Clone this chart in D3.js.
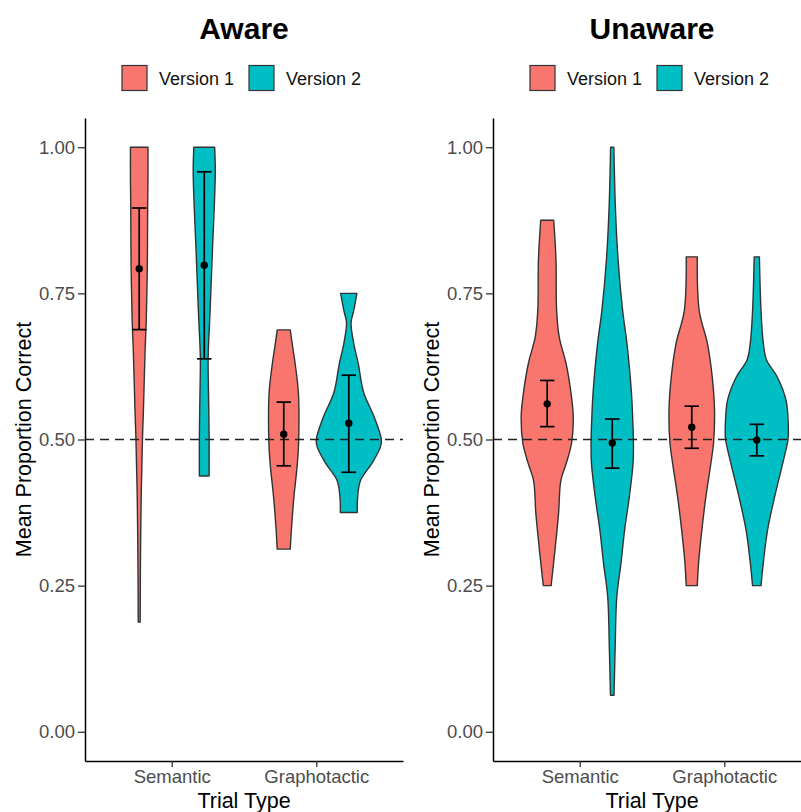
<!DOCTYPE html>
<html>
<head>
<meta charset="utf-8">
<script src="https://cdn.jsdelivr.net/npm/d3@7"></script>
<style>
  body { margin: 0; background: #fff; }
  text { font-family: "Liberation Sans", Arial, Helvetica, sans-serif; }
</style>
</head>
<body>
<svg id="chart"></svg>
<script>
// categories
const panels = ["Aware", "Unaware"];
const trialTypes = ["Semantic", "Graphotactic"];
const versions = ["Version 1", "Version 2"];
const colors = ["#F8766D", "#00BFC4"];
const yTicks = [0, 0.25, 0.5, 0.75, 1];
const chance = 0.5;

// mean and error bars, order: Semantic V1, Semantic V2, Graphotactic V1, Graphotactic V2
const awareMean  = [0.792, 0.798, 0.509, 0.528];
const awareLower = [0.688, 0.638, 0.455, 0.444];
const awareUpper = [0.896, 0.958, 0.564, 0.610];
const unawareMean  = [0.561, 0.494, 0.521, 0.499];
const unawareLower = [0.522, 0.451, 0.485, 0.472];
const unawareUpper = [0.601, 0.535, 0.557, 0.526];

// violin outlines: [proportion correct, relative density]
const awareSemV1 = [[1.0,0.27],[0.95,0.27],[0.90,0.26],[0.80,0.25],[0.70,0.215],[0.65,0.18],[0.55,0.13],[0.50,0.10],[0.45,0.08],[0.40,0.06],[0.30,0.04],[0.1875,0.03]];
const awareSemV2 = [[1.0,0.32],[0.96,0.34],[0.90,0.31],[0.835,0.26],[0.72,0.18],[0.64,0.12],[0.60,0.125],[0.55,0.14],[0.50,0.15],[0.4375,0.15]];
const awareGraphV1 = [[0.6875,0.20],[0.66,0.27],[0.63,0.35],[0.58,0.45],[0.50,0.46],[0.46,0.42],[0.40,0.31],[0.35,0.24],[0.3125,0.20]];
const awareGraphV2 = [[0.75,0.25],[0.72,0.15],[0.70,0.07],[0.665,0.15],[0.63,0.29],[0.58,0.46],[0.54,0.77],[0.50,1.0],[0.487,0.97],[0.46,0.72],[0.43,0.36],[0.40,0.27],[0.375,0.26]];
const unawareSemV1 = [[0.875,0.20],[0.807,0.27],[0.72,0.29],[0.675,0.37],[0.63,0.58],[0.58,0.73],[0.54,0.80],[0.494,0.75],[0.46,0.59],[0.43,0.42],[0.374,0.35],[0.317,0.25],[0.27,0.16],[0.25,0.12]];
const unawareSemV2 = [[1.0,0.05],[0.892,0.10],[0.807,0.18],[0.72,0.32],[0.665,0.45],[0.58,0.59],[0.52,0.64],[0.50,0.65],[0.46,0.64],[0.40,0.52],[0.345,0.38],[0.289,0.27],[0.231,0.14],[0.145,0.09],[0.0625,0.055]];
const unawareGraphV1 = [[0.8125,0.17],[0.72,0.23],[0.665,0.48],[0.607,0.63],[0.55,0.70],[0.494,0.67],[0.46,0.59],[0.40,0.43],[0.345,0.31],[0.289,0.21],[0.25,0.17]];
const unawareGraphV2 = [[0.8125,0.08],[0.72,0.13],[0.665,0.20],[0.636,0.30],[0.607,0.63],[0.567,0.90],[0.52,0.97],[0.50,0.96],[0.46,0.80],[0.40,0.54],[0.345,0.33],[0.289,0.20],[0.25,0.13]];

const panelData = [
  {mean: awareMean, lower: awareLower, upper: awareUpper,
   violins: [awareSemV1, awareSemV2, awareGraphV1, awareGraphV2]},
  {mean: unawareMean, lower: unawareLower, upper: unawareUpper,
   violins: [unawareSemV1, unawareSemV2, unawareGraphV1, unawareGraphV2]}
];

const width = 801, height = 812;
const margins = {top: 118, bottom: 51};
const panelLeft = [85, 493];
const plotW = 318;
const plotH = height - margins.top - margins.bottom;

const svg = d3.select("#chart").attr("width", width).attr("height", height);

const yScale = d3.scaleLinear().domain([-0.05, 1.05]).range([plotH, 0]);
// discrete x positions 1,2 with ggplot style expansion
const xScale = d3.scaleLinear().domain([0.4, 2.6]).range([0, plotW]);
const dodge = 0.225, violinHalf = 0.225, capHalf = 0.05;

panels.forEach((name, p) => {
  const d = panelData[p];
  const g = svg.append("g").attr("transform", "translate(" + panelLeft[p] + "," + margins.top + ")");
  const cx = plotW / 2;

  // title
  g.append("text").attr("x", cx).attr("y", 39 - margins.top)
    .attr("text-anchor", "middle").attr("font-size", 30).attr("font-weight", "bold")
    .text(name);

  // legend
  const leg = g.append("g").attr("transform", "translate(" + (cx - 122) + "," + (65.5 - margins.top) + ")");
  const legOffsets = [0, 127];
  versions.forEach((v, i) => {
    leg.append("rect").attr("x", legOffsets[i]).attr("y", 0).attr("width", 25).attr("height", 25)
      .attr("fill", colors[i]).attr("stroke", "#333").attr("stroke-width", 1.2);
    leg.append("text").attr("x", legOffsets[i] + 37).attr("y", 19).attr("font-size", 18)
      .attr("fill", "#111").text(v);
  });

  // violins
  const area = d3.area()
    .curve(d3.curveCatmullRom)
    .y(e => yScale(e[0]));
  d.violins.forEach((pts, k) => {
    const t = Math.floor(k / 2), ver = k % 2;
    const center = (t + 1) + (ver === 0 ? -dodge : dodge);
    area.x0(e => xScale(center - violinHalf * e[1]))
        .x1(e => xScale(center + violinHalf * e[1]));
    g.append("path").attr("d", area(pts))
      .attr("fill", colors[ver]).attr("stroke", "#333").attr("stroke-width", 1.4)
      .attr("stroke-linejoin", "round");
  });

  // chance line
  g.append("line").attr("x1", 0).attr("x2", plotW)
    .attr("y1", yScale(chance)).attr("y2", yScale(chance))
    .attr("stroke", "#222").attr("stroke-width", 1.4).attr("stroke-dasharray", "9,6");

  // error bars and means
  d.mean.forEach((m, k) => {
    const t = Math.floor(k / 2), ver = k % 2;
    const center = (t + 1) + (ver === 0 ? -dodge : dodge);
    const eb = g.append("g").attr("stroke", "#000").attr("stroke-width", 1.7);
    eb.append("line").attr("x1", xScale(center)).attr("x2", xScale(center))
      .attr("y1", yScale(d.lower[k])).attr("y2", yScale(d.upper[k]));
    [d.lower[k], d.upper[k]].forEach(v => {
      eb.append("line").attr("x1", xScale(center - capHalf)).attr("x2", xScale(center + capHalf))
        .attr("y1", yScale(v)).attr("y2", yScale(v));
    });
    g.append("circle").attr("cx", xScale(center)).attr("cy", yScale(m)).attr("r", 3.7).attr("fill", "#000");
  });

  // axes
  const yAxis = g.append("g").call(d3.axisLeft(yScale).tickValues(yTicks)
    .tickFormat(d3.format(".2f")).tickSize(7).tickSizeOuter(0).tickPadding(3));
  const xAxis = g.append("g").attr("transform", "translate(0," + plotH + ")")
    .call(d3.axisBottom(xScale).tickValues([1, 2]).tickFormat(i => trialTypes[i - 1])
      .tickSize(6).tickSizeOuter(0).tickPadding(3));
  [yAxis, xAxis].forEach(a => {
    a.select(".domain").attr("stroke", "#000").attr("stroke-width", 1.5);
    a.selectAll(".tick line").attr("stroke", "#333").attr("stroke-width", 1.3);
    a.selectAll(".tick text").attr("fill", "#4D4D4D").attr("font-size", 18.5)
      .style("font-family", "'Liberation Sans', Arial, sans-serif");
  });

  // axis titles
  g.append("text").attr("x", cx).attr("y", plotH + 47).attr("text-anchor", "middle")
    .attr("font-size", 21.5).text("Trial Type");
  g.append("text").attr("transform", "translate(-54," + (plotH / 2) + ") rotate(-90)")
    .attr("text-anchor", "middle").attr("font-size", 21.5).text("Mean Proportion Correct");
});
</script>
</body>
</html>
